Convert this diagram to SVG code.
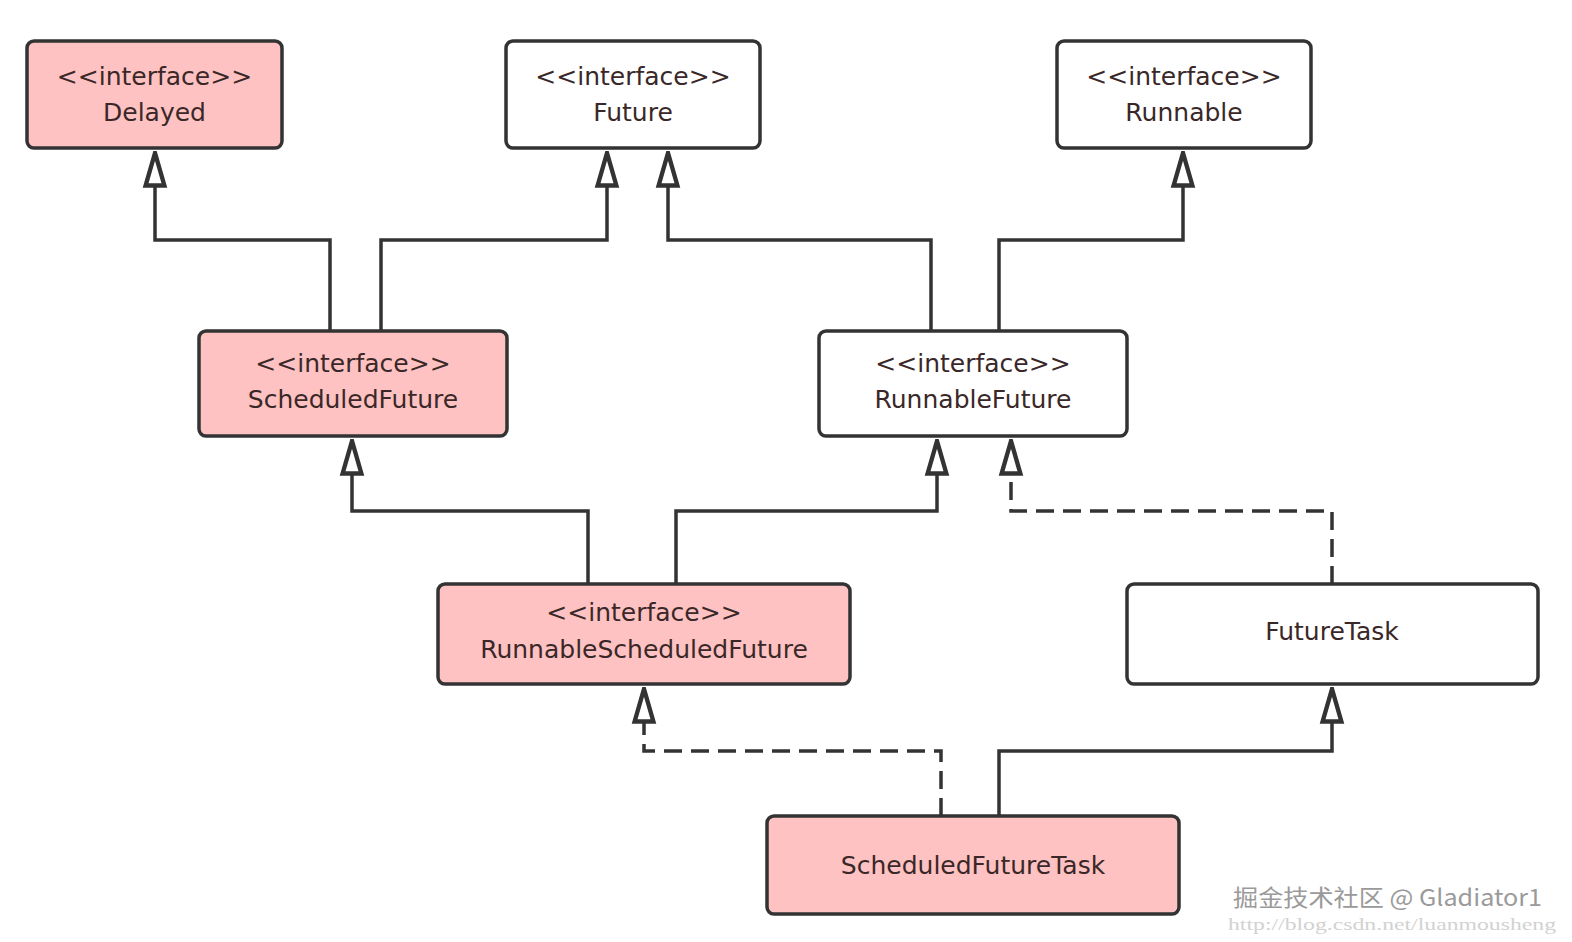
<svg xmlns="http://www.w3.org/2000/svg" width="1572" height="942" viewBox="0 0 1572 942">
<style>
.box{stroke:#333;stroke-width:3.5}
.pink{fill:#ffc2c2}
.white{fill:#fff}
.t{font-family:"DejaVu Sans","Liberation Sans",sans-serif;font-size:25px;fill:#3a2828;text-anchor:middle}
.c{fill:none;stroke:#333;stroke-width:3.5}
.d{stroke-dasharray:18 9}
.wm{font-family:"Noto Sans CJK SC","Liberation Sans",sans-serif;font-size:23px;fill:#9a9a9a;stroke:#fff;stroke-width:1;paint-order:stroke}
.url{font-family:"Liberation Serif",serif;font-size:17px;fill:#d2d2d2}
</style>
<defs>
<marker id="tri" markerUnits="userSpaceOnUse" markerWidth="40" markerHeight="30" viewBox="-30 -12 32 24" refX="0" refY="0" orient="auto">
<path d="M0,0 L-26,-7.5 L-26,7.5 Z" fill="#fff" stroke="#333" stroke-width="3.5" stroke-linejoin="miter"/>
</marker>
</defs>
<rect width="1572" height="942" fill="#fff"/>
<g id="connectors">
<path class="c" d="M330,331 V240 H155 V153" marker-end="url(#tri)"/>
<path class="c" d="M381,331 V240 H607 V153" marker-end="url(#tri)"/>
<path class="c" d="M931,331 V240 H668 V153" marker-end="url(#tri)"/>
<path class="c" d="M999,331 V240 H1183 V153" marker-end="url(#tri)"/>
<path class="c" d="M588,584 V511 H352 V441" marker-end="url(#tri)"/>
<path class="c" d="M676,584 V511 H937 V441" marker-end="url(#tri)"/>
<path class="c d" d="M1332,584 V511 H1011 V441" marker-end="url(#tri)"/>
<path class="c d" d="M941,816 V751 H644 V689" marker-end="url(#tri)"/>
<path class="c" d="M999,816 V751 H1332 V689" marker-end="url(#tri)"/>
</g>
<g id="Delayed">
<rect class="box pink" x="27" y="41" width="255" height="107" rx="7"/>
<text class="t" x="154.5" y="85">&lt;&lt;interface&gt;&gt;</text>
<text class="t" x="154.5" y="121">Delayed</text>
</g>
<g id="Future">
<rect class="box white" x="506" y="41" width="254" height="107" rx="7"/>
<text class="t" x="633" y="85">&lt;&lt;interface&gt;&gt;</text>
<text class="t" x="633" y="121">Future</text>
</g>
<g id="Runnable">
<rect class="box white" x="1057" y="41" width="254" height="107" rx="7"/>
<text class="t" x="1184" y="85">&lt;&lt;interface&gt;&gt;</text>
<text class="t" x="1184" y="121">Runnable</text>
</g>
<g id="ScheduledFuture">
<rect class="box pink" x="199" y="331" width="308" height="105" rx="7"/>
<text class="t" x="353" y="372">&lt;&lt;interface&gt;&gt;</text>
<text class="t" x="353" y="408">ScheduledFuture</text>
</g>
<g id="RunnableFuture">
<rect class="box white" x="819" y="331" width="308" height="105" rx="7"/>
<text class="t" x="973" y="372">&lt;&lt;interface&gt;&gt;</text>
<text class="t" x="973" y="408">RunnableFuture</text>
</g>
<g id="RunnableScheduledFuture">
<rect class="box pink" x="438" y="584" width="412" height="100" rx="7"/>
<text class="t" x="644" y="621">&lt;&lt;interface&gt;&gt;</text>
<text class="t" x="644" y="658">RunnableScheduledFuture</text>
</g>
<g id="FutureTask">
<rect class="box white" x="1127" y="584" width="411" height="100" rx="7"/>
<text class="t" x="1332" y="640">FutureTask</text>
</g>
<g id="ScheduledFutureTask">
<rect class="box pink" x="767" y="816" width="412" height="98" rx="7"/>
<text class="t" x="973" y="874">ScheduledFutureTask</text>
</g>
<g id="watermark">
<text class="url" x="1228" y="930" textLength="328" lengthAdjust="spacingAndGlyphs">http://blog.csdn.net/luanmousheng</text>
<text class="wm" x="1233" y="906" textLength="309" lengthAdjust="spacingAndGlyphs">掘金技术社区 @ Gladiator1</text>
</g>
</svg>
